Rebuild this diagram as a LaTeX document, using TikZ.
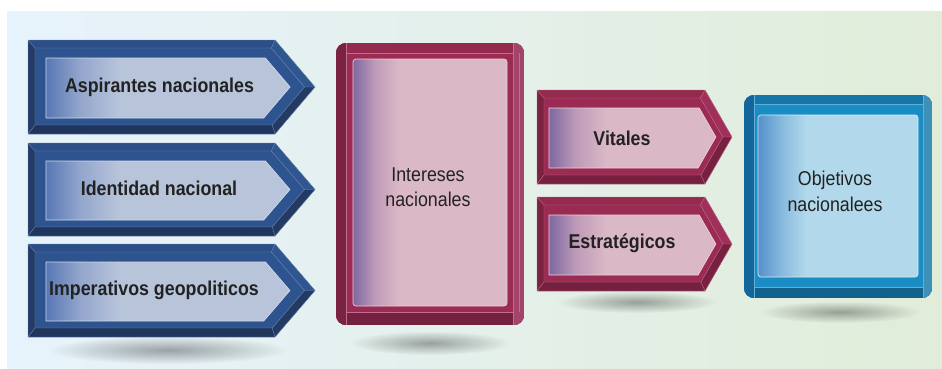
\documentclass[tikz,border=0pt]{standalone}
\usepackage{fontspec}
\setmainfont{Liberation Sans}[FakeStretch=0.89]
\usetikzlibrary{fadings}
\tikzfading[name=softfade, inner color=transparent!0, outer color=transparent!100]
% blue palette
\definecolor{blFace}{HTML}{2E5490}
\definecolor{blTop}{HTML}{2D4F88}
\definecolor{blDiagA}{HTML}{30568F}
\definecolor{blDiagB}{HTML}{233A62}
\definecolor{blBot}{HTML}{20355C}
\definecolor{blLeft}{HTML}{243B65}
\definecolor{blLine}{HTML}{6F88B4}
\definecolor{blBorder}{HTML}{D0D9E8}
\definecolor{blInL}{HTML}{5877B5}
\definecolor{blInM}{HTML}{93A6CC}
\definecolor{blInR}{HTML}{B8C4DA}
% magenta palette
\definecolor{pkFace}{HTML}{9B2B52}
\definecolor{pkTop}{HTML}{952A4F}
\definecolor{pkDiagA}{HTML}{A0305A}
\definecolor{pkDiagB}{HTML}{772040}
\definecolor{pkBot}{HTML}{76203F}
\definecolor{pkLeft}{HTML}{7A2242}
\definecolor{pkRight}{HTML}{A3456B}
\definecolor{pkLine}{HTML}{C0708F}
\definecolor{pkBorder}{HTML}{EAD0DA}
\definecolor{pkInL}{HTML}{7D68A2}
\definecolor{pkInM}{HTML}{BE9AB8}
\definecolor{pkInR}{HTML}{DBB8C6}
% cyan palette
\definecolor{cyFace}{HTML}{1B8DC5}
\definecolor{cyTop}{HTML}{1776A8}
\definecolor{cyLeft}{HTML}{14669A}
\definecolor{cyBot}{HTML}{12618D}
\definecolor{cyRight}{HTML}{3D90B8}
\definecolor{cyLine}{HTML}{5FB0D8}
\definecolor{cyBorder}{HTML}{D5EEF8}
\definecolor{cyInL}{HTML}{5390CB}
\definecolor{cyInM}{HTML}{86B8DD}
\definecolor{cyInR}{HTML}{B1D9EB}
% background
\definecolor{bgL}{HTML}{E7F3FC}
\definecolor{bgR}{HTML}{E1EDD9}
\definecolor{txt}{HTML}{222222}
\pgfdeclarehorizontalshading{blIn}{100bp}{color(0bp)=(blInL); color(25bp)=(blInL); color(32bp)=(blInM); color(40bp)=(blInR); color(100bp)=(blInR)}
\pgfdeclarehorizontalshading{pkIn}{100bp}{color(0bp)=(pkInL); color(25bp)=(pkInL); color(33bp)=(pkInM); color(42bp)=(pkInR); color(100bp)=(pkInR)}
\pgfdeclarehorizontalshading{mgIn}{100bp}{color(0bp)=(pkInL); color(25bp)=(pkInL); color(32bp)=(pkInM); color(40bp)=(pkInR); color(100bp)=(pkInR)}
\pgfdeclarehorizontalshading{cyIn}{100bp}{color(0bp)=(cyInL); color(25bp)=(cyInL); color(32bp)=(cyInM); color(40bp)=(cyInR); color(100bp)=(cyInR)}
\newcommand\BevArrow[8]{%
 \pgfmathsetmacro\ArYc{(#2+#3)/2}%
 \pgfmathsetmacro\ArS{(#5-#4)/(\ArYc-#2)}%
 \pgfmathsetmacro\ArH{sqrt(1+\ArS*\ArS)}%
 \pgfmathsetmacro\ArBL{#1+7}%
 \pgfmathsetmacro\ArBT{#2+8}%
 \pgfmathsetmacro\ArBB{#3-9}%
 \pgfmathsetmacro\ArBTx{#4+\ArS*8-8*\ArH}%
 \pgfmathsetmacro\ArBBx{#4+\ArS*9-8*\ArH}%
 \pgfmathsetmacro\ArBTip{#5-8*\ArH}%
 \pgfmathsetmacro\ArIL{#1+#8}%
 \pgfmathsetmacro\ArIT{#2+18}%
 \pgfmathsetmacro\ArIB{#3-16}%
 \pgfmathsetmacro\ArITx{#4+\ArS*18-#7*\ArH}%
 \pgfmathsetmacro\ArIBx{#4+\ArS*16-#7*\ArH}%
 \pgfmathsetmacro\ArITip{#5-#7*\ArH}%
 \fill[#6Face] (#1,#2) -- (#4,#2) -- (#5,\ArYc) -- (#4,#3) -- (#1,#3) -- cycle;
 \fill[#6Top] (#1,#2) -- (#4,#2) -- (\ArBTx,\ArBT) -- (\ArBL,\ArBT) -- cycle;
 \fill[#6DiagA] (#4,#2) -- (#5,\ArYc) -- (\ArBTip,\ArYc) -- (\ArBTx,\ArBT) -- cycle;
 \fill[#6DiagB] (#5,\ArYc) -- (#4,#3) -- (\ArBBx,\ArBB) -- (\ArBTip,\ArYc) -- cycle;
 \fill[#6Bot] (#4,#3) -- (#1,#3) -- (\ArBL,\ArBB) -- (\ArBBx,\ArBB) -- cycle;
 \fill[#6Left] (#1,#3) -- (#1,#2) -- (\ArBL,\ArBT) -- (\ArBL,\ArBB) -- cycle;
 \draw[#6Line, line width=0.4pt] (#1,#2) -- (#4,#2) -- (#5,\ArYc) -- (#4,#3) -- (#1,#3) -- cycle
   (\ArBL,\ArBT) -- (\ArBTx,\ArBT) -- (\ArBTip,\ArYc) -- (\ArBBx,\ArBB) -- (\ArBL,\ArBB) -- cycle
   (#1,#2) -- (\ArBL,\ArBT) (#4,#2) -- (\ArBTx,\ArBT) (#5,\ArYc) -- (\ArBTip,\ArYc)
   (#4,#3) -- (\ArBBx,\ArBB) (#1,#3) -- (\ArBL,\ArBB);
 \shade[shading=#6In, draw=#6Border, line width=0.7pt] (\ArIL,\ArIT) -- (\ArITx,\ArIT) -- (\ArITip,\ArYc) -- (\ArIBx,\ArIB) -- (\ArIL,\ArIB) -- cycle;
}
\begin{document}
\begin{tikzpicture}[x=1pt,y=-1pt,
  lbl/.style={text=txt, inner sep=0pt, anchor=base, font=\fontsize{20}{24}\selectfont},
  blbl/.style={lbl, font=\fontsize{20}{24}\selectfont\bfseries},
  shadowfx/.style={fill=black, opacity=0.33, path fading=softfade}]
\useasboundingbox (0,0) rectangle (942,368);
% background panel
\shade[left color=bgL, right color=bgR] (7,11) rectangle (942,368);
% shadows
\fill[shadowfx] (168,350) ellipse (120 and 14);
\fill[shadowfx] (430,343) ellipse (80 and 12);
\fill[shadowfx] (637,302) ellipse (80 and 11);
\fill[shadowfx] (840,312) ellipse (80 and 11);
% blue arrows
\BevArrow{28}{40}{134}{275}{315}{bl}{19}{18}
\BevArrow{28}{143}{236}{275}{315}{bl}{19}{18}
\BevArrow{28}{244}{337}{275}{315}{bl}{19}{18}
% pink arrows
\BevArrow{537}{90}{184}{705}{732}{pk}{14}{12}
\BevArrow{537}{197}{291}{705}{732}{pk}{14}{12}
% central magenta box
\begin{scope}
\path[clip, rounded corners=10pt] (336,43) rectangle (524,325);
\fill[pkFace] (336,43) rectangle (524,325);
\fill[pkTop] (336,43) rectangle (524,53);
\fill[pkBot] (336,312) rectangle (524,325);
\fill[pkLeft] (336,43) rectangle (346,325);
\fill[pkRight] (513,43) rectangle (524,325);
\draw[pkLine, line width=0.4pt] (346,43) -- (346,325) (513,43) -- (513,325) (519,53) -- (519,312)
  (346,53) -- (513,53) (346,312) -- (513,312);
\end{scope}
\shade[shading=mgIn, draw=pkBorder, line width=0.7pt, rounded corners=3pt] (353,59) rectangle (507,306);
% cyan box
\begin{scope}
\path[clip, rounded corners=10pt] (744,95) rectangle (932,298);
\fill[cyFace] (744,95) rectangle (932,298);
\fill[cyTop] (744,95) rectangle (932,104);
\fill[cyBot] (744,287) rectangle (932,298);
\fill[cyLeft] (744,95) rectangle (754,298);
\fill[cyRight] (923,95) rectangle (932,298);
\draw[cyLine, line width=0.4pt] (754,95) -- (754,298) (923,95) -- (923,298)
  (754,104) -- (923,104) (754,287) -- (923,287);
\end{scope}
\shade[shading=cyIn, draw=cyBorder, line width=0.7pt, rounded corners=3pt] (758,115) rectangle (918,277);
% labels
\node[blbl] (asp) at (159.5,92) {Aspirantes nacionales};
\node[blbl] (ide) at (159,195) {Identidad nacional};
\node[blbl] (imp) at (154,295) {Imperativos geopoliticos};
\node[lbl] (int1) at (428,181) {Intereses};
\node[lbl] (int2) at (428,206) {nacionales};
\node[blbl] (vit) at (622,145) {Vitales};
\node[blbl] (est) at (622,248) {Estratégicos};
\node[lbl] (obj1) at (835,185) {Objetivos};
\node[lbl] (obj2) at (835,211) {nacionalees};
\end{tikzpicture}
\end{document}
